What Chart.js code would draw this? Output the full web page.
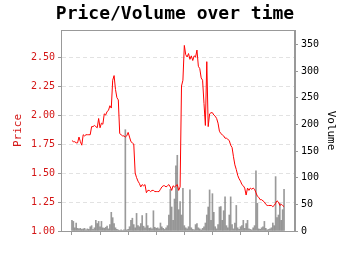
<!DOCTYPE html>
<html>
<head>
  <title>Price/Volume over time</title>
  <script src="https://cdn.jsdelivr.net/npm/chart.js"></script>
  <style>
    body { margin: 0; background: #fff; }
    #wrap { width: 350px; height: 255px; }
  </style>
</head>
<body>
  <div id="wrap"><canvas id="pv"></canvas></div>

  <script>
    // price per step
    const price = [
      1.78, 1.77, 1.77, 1.76, 1.76, 1.81, 1.77, 1.74, 1.83, 1.82,
      1.83, 1.83, 1.83, 1.83, 1.90, 1.90, 1.91, 1.90, 1.89, 1.97,
      1.89, 1.93, 1.92, 2.01, 2.00, 2.03, 2.04, 2.08, 2.06, 2.30,
      2.34, 2.22, 2.15, 2.13, 1.84, 1.83, 1.82, 1.82, 1.81, 1.82,
      1.85, 1.81, 1.77, 1.76, 1.75, 1.50, 1.46, 1.43, 1.41, 1.38,
      1.40, 1.39, 1.40, 1.33, 1.35, 1.35, 1.34, 1.35, 1.35, 1.34,
      1.34, 1.34, 1.34, 1.36, 1.38, 1.39, 1.39, 1.38, 1.39, 1.40,
      1.38, 1.35, 1.39, 1.38, 1.39, 1.40, 1.35, 1.38, 2.25, 2.30,
      2.60, 2.52, 2.50, 2.53, 2.48, 2.51, 2.47, 2.51, 2.50, 2.56,
      2.42, 2.40, 2.32, 2.30, 2.10, 1.91, 2.46, 1.90, 2.01, 2.02,
      2.02, 2.00, 1.99, 1.97, 1.93, 1.86, 1.84, 1.83, 1.82, 1.80,
      1.80, 1.79, 1.78, 1.74, 1.72, 1.64, 1.57, 1.53, 1.48, 1.45,
      1.43, 1.40, 1.39, 1.37, 1.31, 1.37, 1.35, 1.37, 1.36, 1.37,
      1.36, 1.33, 1.30, 1.29, 1.27, 1.27, 1.26, 1.25, 1.23, 1.22,
      1.22, 1.22, 1.22, 1.21, 1.22, 1.24, 1.26, 1.25, 1.22, 1.23,
      1.22, 1.21
    ];

    // volume per step
    const volume = [
      20, 18, 6, 15, 5, 4, 5, 3, 4, 5,
      2, 4, 3, 8, 10, 3, 6, 20, 14, 18,
      8, 18, 6, 5, 7, 9, 4, 12, 35, 25,
      14, 6, 3, 2, 1, 2, 1, 2, 190, 2,
      3, 8, 20, 24, 12, 6, 33, 10, 8, 14,
      29, 9, 6, 33, 10, 5, 6, 4, 38, 7,
      5, 6, 4, 15, 8, 5, 3, 6, 10, 30,
      78, 45, 20, 60, 122, 142, 40, 55, 30, 80,
      10, 6, 4, 8, 77, 6, 3, 2, 12, 14,
      6, 4, 2, 5, 8, 15, 30, 45, 77, 20,
      70, 35, 8, 4, 12, 45, 46, 20, 38, 64,
      10, 6, 30, 64, 12, 4, 15, 48, 6, 3,
      8, 10, 20, 5, 14, 20, 4, 3, 2, 6,
      10, 113, 52, 4, 3, 6, 8, 18, 5, 2,
      3, 4, 6, 15, 10, 102, 25, 30, 52, 20,
      40, 78
    ];

    const priceTicks = { min: 1.0, max: 2.733, step: 0.25 };
    const volTicks = { min: 0, max: 377, step: 50 };

    const mono = 'DejaVu Sans Mono';
    const axisGray = '#999';
    const red = '#d41515';

    // box round the plot area (Chart.js has no top border)
    const frame = {
      id: 'frame',
      afterDraw(chart) {
        const { ctx, chartArea: a } = chart;
        ctx.save();
        ctx.strokeStyle = axisGray;
        ctx.lineWidth = 1;
        ctx.strokeRect(a.left + 0.5, a.top + 0.5, a.right - a.left - 1, a.bottom - a.top);
        ctx.restore();
      }
    };

    new Chart(document.getElementById('pv'), {
      data: {
        datasets: [
          {
            type: 'line',
            label: 'Price',
            data: price.map((v, i) => ({ x: i, y: v })),
            yAxisID: 'y',
            borderColor: 'red',
            borderWidth: 1,
            pointRadius: 0,
            tension: 0,
            order: 0
          },
          {
            type: 'bar',
            label: 'Volume',
            data: volume.map((v, i) => ({ x: i, y: v })),
            yAxisID: 'y1',
            backgroundColor: 'rgba(120,120,120,0.75)',
            barThickness: 1,
            order: 1
          }
        ]
      },
      options: {
        responsive: true,
        maintainAspectRatio: false,
        animation: false,
        layout: { padding: 0 },
        plugins: {
          legend: { display: false },
          tooltip: { enabled: false },
          title: {
            display: true,
            text: 'Price/Volume over time',
            color: '#000',
            font: { family: mono, size: 18, weight: 'bold' },
            padding: { top: 4, bottom: 4.4 }
          }
        },
        scales: {
          x: {
            type: 'linear',
            min: -7.8,
            max: 158.8,
            offset: false,
            afterFit: s => { s.height = 24; },
            ticks: {
              stepSize: 20,
              includeBounds: false,
              autoSkip: false,
              maxRotation: 0,
              callback: () => ''
            },
            grid: { offset: false, drawOnChartArea: false, drawTicks: true, tickLength: 4, color: axisGray },
            border: { color: axisGray }
          },
          y: {
            position: 'left',
            min: priceTicks.min,
            max: priceTicks.max,
            afterFit: s => { s.width = 61; },
            ticks: {
              stepSize: priceTicks.step,
              includeBounds: false,
              color: red,
              padding: 3,
              font: { family: mono, size: 10 },
              callback: v => v.toFixed(2)
            },
            grid: { color: '#e2e2e2', tickColor: axisGray, tickLength: 3, tickBorderDash: [] },
            border: { color: axisGray, dash: [4, 3] },
            title: {
              display: true,
              text: 'Price',
              color: red,
              font: { family: mono, size: 11 },
              padding: { top: 12, bottom: 0 }
            }
          },
          y1: {
            position: 'right',
            min: volTicks.min,
            max: volTicks.max,
            afterFit: s => { s.width = 55; },
            ticks: {
              stepSize: volTicks.step,
              includeBounds: false,
              color: '#000',
              padding: 3,
              font: { family: mono, size: 10 }
            },
            grid: { drawOnChartArea: false, color: axisGray, tickLength: 3 },
            border: { color: axisGray },
            title: {
              display: true,
              text: 'Volume',
              color: '#000',
              font: { family: mono, size: 11 },
              padding: { top: 13, bottom: 0 }
            }
          }
        }
      },
      plugins: [frame]
    });
  </script>
</body>
</html>
